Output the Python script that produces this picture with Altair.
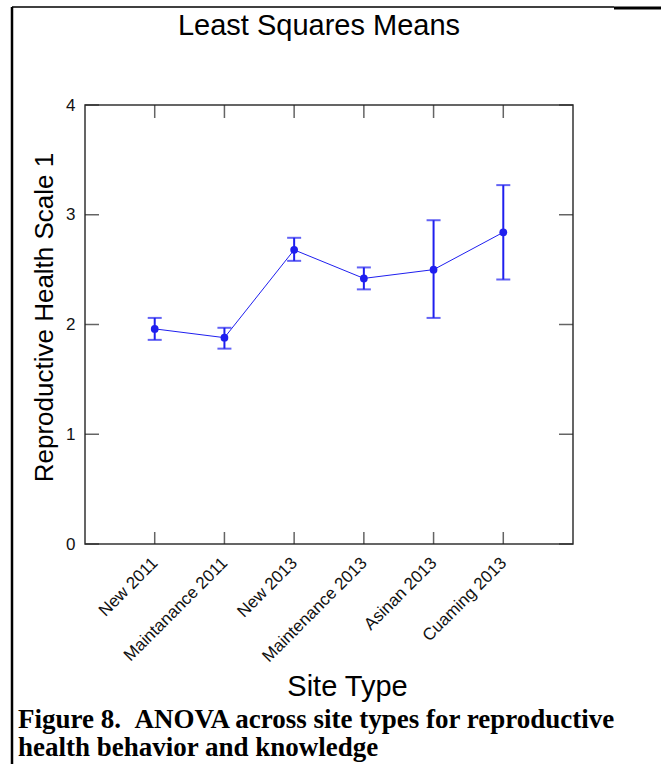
import json
import altair as alt
import pandas as pd

# Least squares means of Reproductive Health Scale 1 by site type
sites = ["New 2011", "Maintanance 2011", "New 2013", "Maintenance 2013", "Asinan 2013", "Cuaming 2013"]
means = [1.96, 1.88, 2.68, 2.42, 2.50, 2.84]
lower = [1.86, 1.78, 2.58, 2.32, 2.06, 2.41]
upper = [2.06, 1.97, 2.79, 2.52, 2.95, 3.27]

x_ticks = [1, 2, 3, 4, 5, 6]
y_ticks = [0, 1, 2, 3, 4]

W, H = 488, 439
BLUE = "#1f1fef"
FONT = "Liberation Sans"

df = pd.DataFrame({
    "pos": list(range(1, len(sites) + 1)),
    "site": sites,
    "mean": means,
    "lo": lower,
    "hi": upper,
})
xt = pd.DataFrame({"v": x_ticks})
yt = pd.DataFrame({"v": y_ticks})
one = pd.DataFrame({"k": [0]})

label_expr = json.dumps(sites) + "[datum.value - 1]"

x_scale = alt.Scale(domain=[0, 7], nice=False, zero=False)
y_scale = alt.Scale(domain=[0, 4], nice=False)

x_axis = alt.Axis(
    values=x_ticks, labelExpr=label_expr, labelAngle=-45, labelAlign="right",
    labelBaseline="middle", labelPadding=16, labelFontSize=17, labelFont=FONT,
    labelColor="#111", labelOverlap=False, labelBound=False, labelFlush=False,
    tickSize=0, domain=False, grid=False,
    title="Site Type", titleFont=FONT, titleFontSize=29, titleFontWeight="normal",
    titleColor="#000", titleX=262, titleY=142, titleAlign="center", titleBaseline="middle",
)
y_axis = alt.Axis(
    values=y_ticks, format="d", labelPadding=10, labelFontSize=17, labelFont=FONT,
    labelColor="#111", labelOverlap=False, tickSize=0, domain=False, grid=False,
    title="Reproductive Health Scale 1", titleFont=FONT, titleFontSize=26,
    titleFontWeight="normal", titleColor="#000", titleX=-41, titleY=212,
    titleAlign="center", titleBaseline="middle",
)

base = alt.Chart(df)

bars = base.mark_rule(color=BLUE, strokeWidth=2).encode(
    x=alt.X("pos:Q", scale=x_scale, axis=x_axis),
    y=alt.Y("lo:Q", scale=y_scale, axis=y_axis),
    y2="hi:Q",
)
cap_lo = base.mark_tick(color=BLUE, orient="horizontal", size=14, thickness=2).encode(
    x="pos:Q", y="lo:Q"
)
cap_hi = base.mark_tick(color=BLUE, orient="horizontal", size=14, thickness=2).encode(
    x="pos:Q", y="hi:Q"
)
line = base.mark_line(color=BLUE, strokeWidth=1).encode(x="pos:Q", y="mean:Q")
points = base.mark_point(color=BLUE, filled=True, opacity=1, size=60).encode(
    x="pos:Q", y="mean:Q"
)

# inward ticks on all four sides of the frame
tick_style = dict(color="#222", thickness=1.5)
xt_bottom = alt.Chart(xt).mark_tick(orient="vertical", size=12, **tick_style).encode(
    x="v:Q", y=alt.value(H - 6)
)
xt_top = alt.Chart(xt).mark_tick(orient="vertical", size=13, **tick_style).encode(
    x="v:Q", y=alt.value(6.5)
)
yt_left = alt.Chart(yt).mark_tick(orient="horizontal", size=14, **tick_style).encode(
    y="v:Q", x=alt.value(7)
)
yt_right = alt.Chart(yt).mark_tick(orient="horizontal", size=14, **tick_style).encode(
    y="v:Q", x=alt.value(W - 7)
)

# page frame lines
frame_left = alt.Chart(one).mark_rule(color="#000", strokeWidth=2.5).encode(
    x=alt.value(-73), y=alt.value(-98), y2=alt.value(660)
)
frame_top = alt.Chart(one).mark_rule(color="#000", strokeWidth=1.5).encode(
    x=alt.value(-73), x2=alt.value(529), y=alt.value(-98)
)
frame_top_r = alt.Chart(one).mark_rule(color="#000", strokeWidth=3).encode(
    x=alt.value(529), x2=alt.value(577), y=alt.value(-97)
)

title = alt.Chart(one).mark_text(
    text="Least Squares Means", font=FONT, fontSize=29, color="#000",
    align="center", baseline="middle",
).encode(x=alt.value(234), y=alt.value(-79))

caption = alt.Chart(one).mark_text(
    text=["Figure 8.\u00a0\u00a0ANOVA across site types for reproductive",
          "health behavior and knowledge"],
    font="Liberation Serif", fontSize=27, fontWeight="bold", color="#000",
    align="left", baseline="alphabetic", lineHeight=28,
).encode(x=alt.value(-67), y=alt.value(623))

chart = alt.layer(
    bars, cap_lo, cap_hi, line, points,
    xt_bottom, xt_top, yt_left, yt_right,
    frame_left, frame_top, frame_top_r, title, caption,
).properties(
    width=W, height=H,
    autosize=alt.AutoSizeParams(type="none"),
    padding={"left": 85, "top": 105, "right": 88, "bottom": 220},
    background="white",
).configure_view(stroke="#333", strokeWidth=1.5)

chart.save("out.html", embed_options={"renderer": "svg", "actions": False})
